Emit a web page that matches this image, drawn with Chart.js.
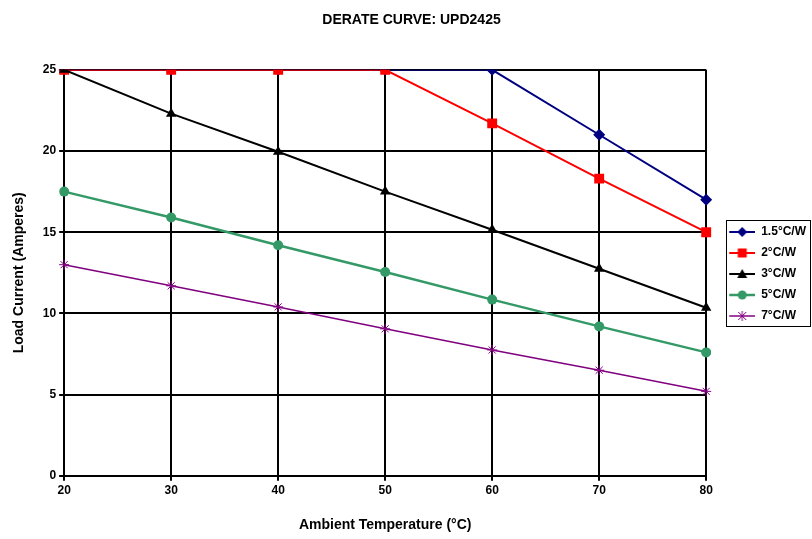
<!DOCTYPE html>
<html>
<head>
<meta charset="utf-8">
<script src="https://cdn.jsdelivr.net/npm/chart.js@4"></script>
<style>
  html, body { margin: 0; padding: 0; background: #fff; }
  #wrap { width: 812px; height: 539px; }
</style>
</head>
<body>
<div id="wrap"><canvas id="derate" width="812" height="539"></canvas></div>
<script>
// Derate curve data ====================================================
const temps = ['20', '30', '40', '50', '60', '70', '80']; // Ambient temperature (°C)
const c15 = [25, 25, 25, 25, 25, 21, 17];                  // 1.5°C/W
const c2 = [25, 25, 25, 25, 21.7, 18.3, 15];               // 2°C/W
const c3 = [25, 22.3, 19.95, 17.5, 15.15, 12.75, 10.35];   // 3°C/W
const c5 = [17.5, 15.9, 14.2, 12.55, 10.85, 9.2, 7.6];     // 5°C/W
const c7 = [13, 11.7, 10.4, 9.05, 7.75, 6.5, 5.2];         // 7°C/W
const seriesNames = ['1.5°C/W', '2°C/W', '3°C/W', '5°C/W', '7°C/W'];

const OFF = 14;   // blank space left of each legend swatch
const SW = 26;    // visible swatch length

// small legend swatch: line with the marker in the middle
function swatch(color, style, lw) {
    const c = document.createElement('canvas');
    c.width = OFF + SW; c.height = 12;
    const g = c.getContext('2d');
    g.strokeStyle = color; g.fillStyle = color; g.lineWidth = lw;
    g.beginPath(); g.moveTo(OFF, 6); g.lineTo(OFF + SW, 6); g.stroke();
    const x = OFF + SW / 2, y = 6;
    g.beginPath();
    if (style === 'rectRot') { g.moveTo(x, y - 5); g.lineTo(x + 5, y); g.lineTo(x, y + 5); g.lineTo(x - 5, y); g.closePath(); g.fill(); }
    else if (style === 'rect') { g.fillRect(x - 4.5, y - 4.5, 9, 9); }
    else if (style === 'triangle') { g.moveTo(x, y - 5); g.lineTo(x + 5, y + 4); g.lineTo(x - 5, y + 4); g.closePath(); g.fill(); }
    else if (style === 'circle') { g.arc(x, y, 4.5, 0, Math.PI * 2); g.fill(); }
    else { g.lineWidth = 1; g.moveTo(x - 4, y - 4); g.lineTo(x + 4, y + 4); g.moveTo(x + 4, y - 4); g.lineTo(x - 4, y + 4); g.moveTo(x, y - 5); g.lineTo(x, y + 5); g.stroke(); }
    return c;
}

const colors = ['#000080', '#FF0000', '#000000', '#339966', '#800080'];
const styles = ['rectRot', 'rect', 'triangle', 'circle', 'star'];
const widths = [2, 2, 2, 2.5, 1.5];
const radii = [6, 7, 6, 5, 5];
const values = [c15, c2, c3, c5, c7];

// border round the legend items only
const legendBorder = {
    id: 'legendBorder',
    afterDraw(chart) {
        const boxes = chart.legend.legendHitBoxes, ctx = chart.ctx;
        if (!boxes || !boxes.length) return;
        const left = Math.min(...boxes.map(b => b.left)) + OFF - 3;
        const top = Math.min(...boxes.map(b => b.top)) - 6;
        const right = Math.max(...boxes.map(b => b.left + b.width)) + 4;
        const bottom = Math.max(...boxes.map(b => b.top + b.height)) + 4;
        ctx.save();
        ctx.strokeStyle = '#000'; ctx.lineWidth = 1;
        ctx.strokeRect(Math.round(left) + 0.5, Math.round(top) + 0.5, Math.round(right - left), Math.round(bottom - top));
        ctx.restore();
    }
};

const ctx = document.getElementById('derate').getContext('2d');
new Chart(ctx, {
    type: 'line',
    data: {
        labels: temps,
        datasets: values.map((v, i) => ({
            label: seriesNames[i],
            data: v,
            borderColor: colors[i],
            backgroundColor: colors[i],
            borderWidth: widths[i],
            pointStyle: styles[i],
            pointRadius: radii[i],
            pointBorderWidth: i === 4 ? 1 : 0,
            order: 5 - i,
            tension: 0,
            fill: false
        }))
    },
    options: {
        responsive: false,
        animation: false,
        layout: { padding: { left: 7, right: -4, top: 0, bottom: 1 } },
        plugins: {
            legend: {
                position: 'right',
                title: { display: true, text: '', font: { size: 8, lineHeight: 1 }, padding: 1 },
                labels: {
                    usePointStyle: true,
                    pointStyleWidth: OFF + SW,
                    padding: 9,
                    color: '#000',
                    font: { family: 'Liberation Sans, Arial', size: 12, weight: 'bold' },
                    generateLabels: chart => chart.data.datasets.map((d, i) => ({
                        text: d.label,
                        fontColor: '#000',
                        pointStyle: swatch(colors[i], styles[i], widths[i]),
                        fillStyle: colors[i],
                        strokeStyle: colors[i],
                        lineWidth: 0,
                        datasetIndex: i
                    }))
                }
            },
            title: {
                display: true,
                text: 'DERATE CURVE: UPD2425',
                color: '#000',
                font: { family: 'Liberation Sans, Arial', size: 14, weight: 'bold' },
                padding: { top: 12, bottom: 41 }
            },
            tooltip: { enabled: false }
        },
        scales: {
            x: {
                grid: { color: '#000', lineWidth: 2, tickLength: 5 },
                border: { color: '#000', width: 2 },
                ticks: { color: '#000', maxRotation: 0, font: { family: 'Liberation Sans, Arial', size: 12, weight: 'bold' } },
                title: {
                    display: true,
                    text: 'Ambient Temperature (°C)',
                    color: '#000',
                    font: { family: 'Liberation Sans, Arial', size: 14, weight: 'bold' },
                    padding: { top: 16 }
                }
            },
            y: {
                min: 0,
                max: 25,
                grid: { color: '#000', lineWidth: 2, tickLength: 5 },
                border: { color: '#000', width: 2 },
                ticks: { stepSize: 5, color: '#000', font: { family: 'Liberation Sans, Arial', size: 12, weight: 'bold' } },
                title: {
                    display: true,
                    text: 'Load Current (Amperes)',
                    color: '#000',
                    font: { family: 'Liberation Sans, Arial', size: 14, weight: 'bold' },
                    padding: { bottom: 12 }
                }
            }
        }
    },
    plugins: [legendBorder]
});
</script>
</body>
</html>
